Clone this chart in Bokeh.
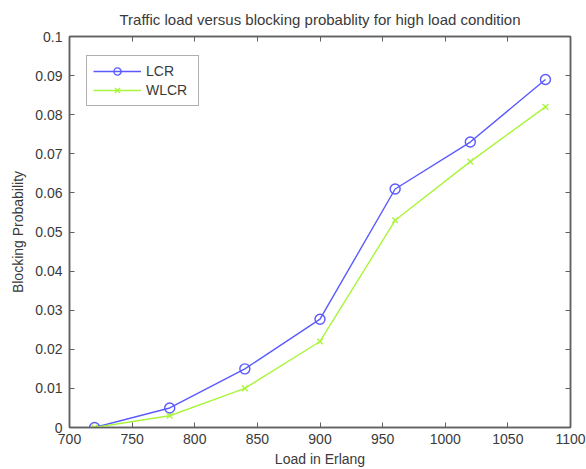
from bokeh.plotting import figure
from bokeh.models import (LinearAxis, FixedTicker, Range1d, Legend, LegendItem,
                          CustomLabelingPolicy)
from bokeh.embed import file_html
from bokeh.resources import INLINE

load = [720, 780, 840, 900, 960, 1020, 1080]
lcr = [0.0, 0.005, 0.015, 0.0277, 0.061, 0.073, 0.089]
wlcr = [0.0, 0.003, 0.010, 0.022, 0.053, 0.068, 0.082]

x_ticks = [700, 750, 800, 850, 900, 950, 1000, 1050, 1100]
y_ticks = [0, 0.01, 0.02, 0.03, 0.04, 0.05, 0.06, 0.07, 0.08, 0.09, 0.1]
y_tick_labels = ["0", "0.01", "0.02", "0.03", "0.04", "0.05", "0.06", "0.07", "0.08", "0.09", "0.1"]

FONT = "Liberation Sans"
TXT = "#3a3a3a"
AX = "#606060"
BLUE = "#5a5aff"
GREEN = "#aaf53c"

p = figure(width=586, height=469, output_backend="svg", toolbar_location=None,
           x_range=Range1d(700, 1100), y_range=Range1d(0, 0.1),
           min_border_left=69, min_border_right=16, min_border_top=36, min_border_bottom=40,
           title="Traffic load versus blocking probablity for high load condition")
p.title.align = "center"
p.title.text_font = FONT
p.title.text_font_size = "15px"
p.title.text_font_style = "normal"
p.title.text_color = TXT
p.title.standoff = 9
p.grid.visible = False
p.outline_line_color = AX
p.outline_line_width = 1.5
p.background_fill_color = "white"
p.border_fill_color = "white"

hide_all = CustomLabelingPolicy(code="""
for (let i = 0; i < indices.size; i++) { indices.unset(i) }
return indices
""")

def style_axis(ax, show_labels):
    ax.major_tick_in = 5
    ax.major_tick_out = 0
    ax.minor_tick_in = 0
    ax.minor_tick_out = 0
    ax.axis_line_color = AX
    ax.axis_line_width = 1.5
    ax.major_tick_line_color = AX
    ax.major_label_text_font = FONT
    ax.major_label_text_color = TXT
    ax.major_label_text_font_size = "14px"
    ax.axis_label_text_font = FONT
    ax.axis_label_text_color = TXT
    ax.axis_label_text_font_style = "normal"
    ax.axis_label_text_font_size = "14px"
    if not show_labels:
        ax.major_label_policy = hide_all
        ax.major_label_text_font_size = "1px"
        ax.major_label_standoff = 0

p.xaxis.ticker = FixedTicker(ticks=x_ticks)
p.yaxis.ticker = FixedTicker(ticks=y_ticks)
p.yaxis.major_label_overrides = {t: l for t, l in zip(y_ticks, y_tick_labels)}
p.xaxis.axis_label = "Load in Erlang"
p.yaxis.axis_label = "Blocking Probability"
style_axis(p.xaxis[0], True)
style_axis(p.yaxis[0], True)
p.xaxis.major_label_standoff = 6
p.yaxis.major_label_standoff = 7
p.xaxis.axis_label_standoff = 4
p.yaxis.axis_label_standoff = 6

top = LinearAxis(ticker=FixedTicker(ticks=x_ticks))
right = LinearAxis(ticker=FixedTicker(ticks=y_ticks))
style_axis(top, False)
style_axis(right, False)
p.add_layout(top, "above")
p.add_layout(right, "right")

l1 = p.line(load, lcr, line_color=BLUE, line_width=1.4)
m1 = p.scatter(load, lcr, marker="circle", size=10, fill_color=None, line_color=BLUE, line_width=1.4)
l2 = p.line(load, wlcr, line_color=GREEN, line_width=1.4)
m2 = p.scatter(load, wlcr, marker="x", size=8, line_color=GREEN, line_width=1.4)

legend = Legend(items=[LegendItem(label="LCR", renderers=[l1, m1]),
                       LegendItem(label="WLCR", renderers=[l2, m2])],
                location=(17, 321))
legend.label_text_font = FONT
legend.label_text_font_size = "14px"
legend.label_text_color = TXT
legend.border_line_color = AX
legend.border_line_width = 1.5
legend.glyph_width = 48
legend.glyph_height = 18
legend.label_height = 18
legend.label_width = 46
legend.spacing = 1
legend.padding = 6
legend.margin = 0
legend.label_standoff = 5
p.add_layout(legend, "center")

open("out.html", "w").write(file_html(p, INLINE))
